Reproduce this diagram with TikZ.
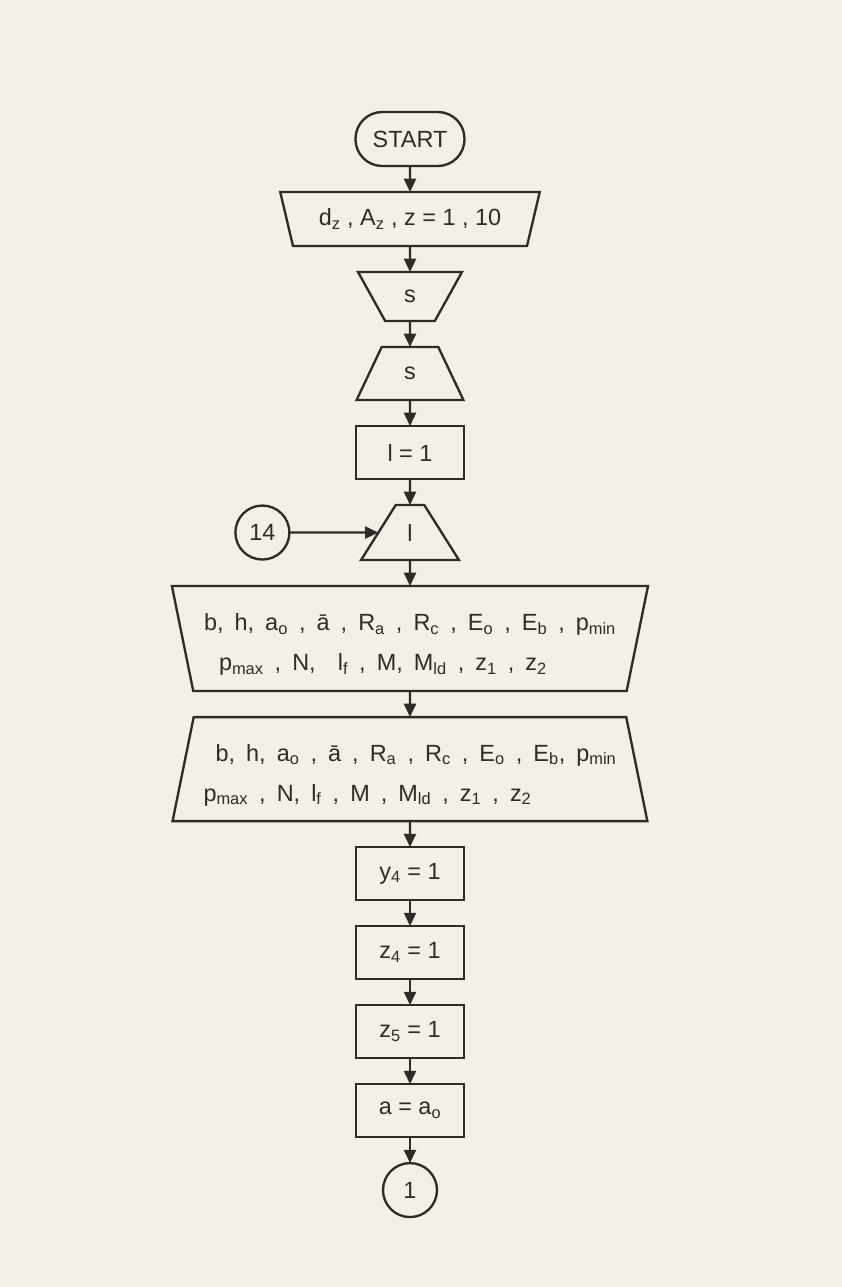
\documentclass[tikz,border=0pt]{standalone}
\usepackage{fontspec}
\setmainfont{Liberation Sans}
\newfontfamily\widefont[WordSpace=1.7]{Liberation Sans}
\usetikzlibrary{shapes.geometric, arrows.meta, positioning}
\definecolor{ink}{RGB}{48,43,38}
\definecolor{paper}{RGB}{243,240,232}
\newcommand{\ix}[1]{\textsubscript{#1}}

\begin{document}
\begin{tikzpicture}[
    node distance=0.78cm,
    every node/.style={text=ink, outer sep=0pt, font=\fontsize{20}{34}\selectfont},
    block/.style={rectangle, draw=ink, line width=2pt, minimum width=3.24cm, minimum height=1.59cm, inner sep=0pt},
    term/.style={rectangle, rounded corners=0.8cm, draw=ink, line width=2pt, minimum width=3.27cm, minimum height=1.62cm},
    iobox/.style={trapezium, trapezium stretches=true, draw=ink, line width=2pt, inner sep=0pt},
    bigio/.style={iobox, align=left, font=\widefont\fontsize{20}{34}\selectfont},
    conn/.style={circle, draw=ink, line width=2pt, minimum size=1.62cm, inner sep=0pt},
    line/.style={-{Triangle[length=4mm, width=3.6mm]}, draw=ink, line width=2pt}
]
\fill[paper] (0,0) rectangle (25.26,-38.61);
\useasboundingbox (0,0) rectangle (25.26,-38.61);

% Nodes
\node[term] (start) at (12.3,-4.17) {START};
\node[iobox, trapezium left angle=115.7, trapezium right angle=115.7, minimum width=7.8cm, minimum height=1.62cm, below=of start] (dzin) {d\ix{z} , A\ix{z} , z = 1 , 10};
\node[iobox, trapezium left angle=116.6, trapezium right angle=116.6, minimum width=3.12cm, minimum height=1.47cm, below=of dzin] (sout) {s};
\node[iobox, trapezium left angle=67.9, trapezium right angle=67.9, minimum width=3.21cm, minimum height=1.59cm, below=of sout] (sin) {s};
\node[block, below=of sin] (lset) {l = 1};
\node[iobox, trapezium left angle=69.6, trapezium right angle=69.6, minimum width=2.94cm, minimum height=1.65cm, below=of lset] (lin) {l};
\node[conn, left=2.67cm of lin] (c14) {14};
\node[bigio, trapezium left angle=105.4, trapezium right angle=105.4, minimum width=14.34cm, minimum height=3.15cm, below=of lin] (dataout)
    {\rule{0pt}{0.87cm}b, h, a\ix{o} , ā , R\ix{a} , R\ix{c} , E\ix{o} , E\ix{b} , p\ix{min}\\
     \hspace*{0.45cm}p\ix{max} , N, \ l\ix{f} , M, M\ix{ld} , z\ix{1} , z\ix{2}};
\node[bigio, trapezium left angle=74.7, trapezium right angle=74.7, minimum width=14.28cm, minimum height=3.12cm, below=of dataout] (datain)
    {\rule{0pt}{0.87cm}\hspace*{0.36cm}b, h, a\ix{o} , ā , R\ix{a} , R\ix{c} , E\ix{o} , E\ix{b}, p\ix{min}\\
     p\ix{max} , N, l\ix{f} , M , M\ix{ld} , z\ix{1} , z\ix{2}};
\node[block, below=of datain] (yset) {y\ix{4} = 1};
\node[block, below=of yset] (zfour) {z\ix{4} = 1};
\node[block, below=of zfour] (zfive) {z\ix{5} = 1};
\node[block, below=of zfive] (aset) {a = a\ix{o}};
\node[conn, below=of aset] (c1) {1};

% Connections
\draw[line] (start) -- (dzin);
\draw[line] (dzin) -- (sout);
\draw[line] (sout) -- (sin);
\draw[line] (sin) -- (lset);
\draw[line] (lset) -- (lin);
\draw[line] (c14) -- (lin);
\draw[line] (lin) -- (dataout);
\draw[line] (dataout) -- (datain);
\draw[line] (datain) -- (yset);
\draw[line] (yset) -- (zfour);
\draw[line] (zfour) -- (zfive);
\draw[line] (zfive) -- (aset);
\draw[line] (aset) -- (c1);

\end{tikzpicture}
\end{document}
